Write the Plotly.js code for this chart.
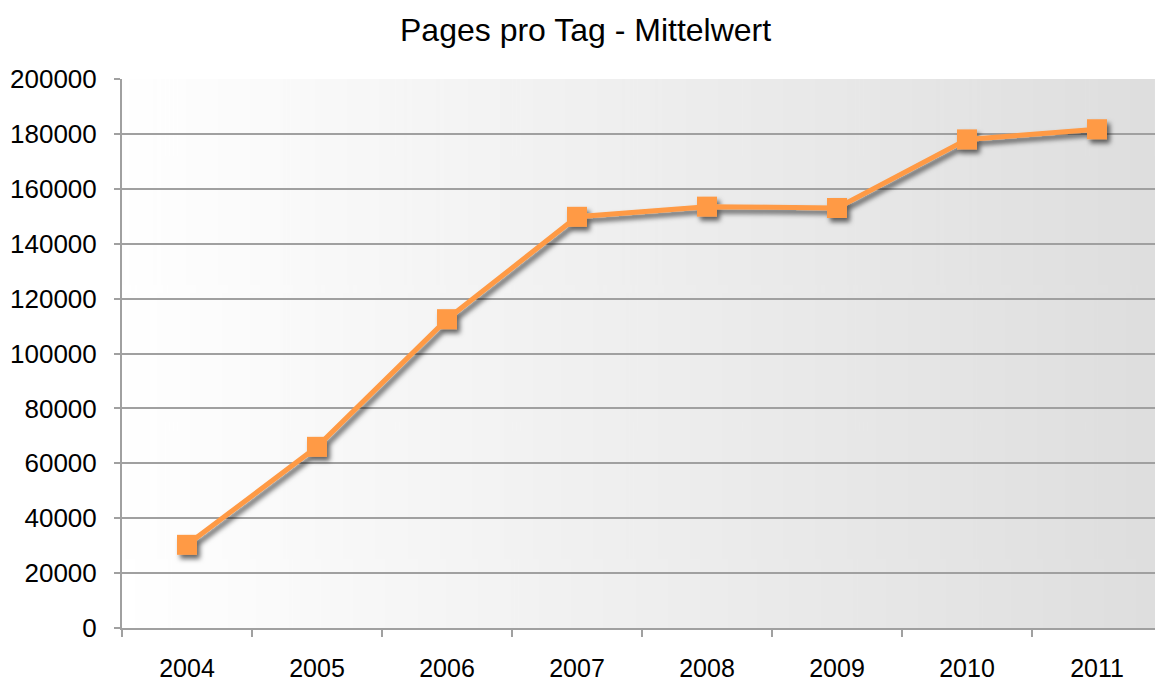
<!DOCTYPE html>
<html>
<head>
<meta charset="utf-8">
<script src="https://cdn.plot.ly/plotly-3.0.1.min.js"></script>
<style>
  body { margin: 0; background: #fff; }
  #chart { width: 1155px; height: 681px; }
</style>
</head>
<body>
<div id="chart"></div>
<script>
let years = ['2004', '2005', '2006', '2007', '2008', '2009', '2010', '2011']
let pagesPerDay = [30300, 66000, 112500, 149800, 153500, 153000, 178000, 181700]
let yTicks = [0, 20000, 40000, 60000, 80000, 100000, 120000, 140000, 160000, 180000, 200000]

// white to grey gradient for the plot background
function gradientImage() {
  let c = document.createElement('canvas')
  c.width = 512
  c.height = 4
  let ctx = c.getContext('2d')
  let g = ctx.createLinearGradient(0, 0, 512, 0)
  g.addColorStop(0, '#ffffff')
  g.addColorStop(1, '#dedede')
  ctx.fillStyle = g
  ctx.fillRect(0, 0, 512, 4)
  return c.toDataURL()
}

let trace = {
  x: years,
  y: pagesPerDay,
  type: 'scatter',
  mode: 'lines+markers',
  line: { color: '#ff9a45', width: 5 },
  marker: { symbol: 'square', size: 20, color: '#ff9a45' },
  cliponaxis: false
}

let layout = {
  width: 1155,
  height: 681,
  margin: { l: 122, r: 0, t: 79, b: 53 },
  paper_bgcolor: '#ffffff',
  plot_bgcolor: 'rgba(0,0,0,0)',
  font: { family: 'Liberation Sans, Arial, sans-serif', size: 26, color: '#000' },
  showlegend: false,
  title: {
    text: 'Pages pro Tag - Mittelwert',
    font: { size: 32, color: '#000' },
    xref: 'container', x: 0.507, xanchor: 'center',
    yref: 'container', y: 0.956, yanchor: 'middle'
  },
  images: [{
    source: gradientImage(),
    xref: 'paper', yref: 'paper',
    x: 0, y: 1, sizex: 1, sizey: 1,
    xanchor: 'left', yanchor: 'top',
    sizing: 'stretch', layer: 'below'
  }],
  xaxis: {
    type: 'category',
    range: [-0.5, 7.446],
    tickson: 'boundaries',
    ticks: 'outside',
    ticklen: 7,
    tickwidth: 2,
    tickcolor: '#a0a0a0',
    showline: true,
    linecolor: '#a0a0a0',
    linewidth: 2,
    showgrid: false,
    zeroline: false,
    tickfont: { size: 25 },
    ticklabelstandoff: 17,
    fixedrange: true
  },
  yaxis: {
    range: [0, 200000],
    tickvals: yTicks,
    ticktext: yTicks.map(String),
    ticks: 'outside',
    ticklen: 6,
    tickwidth: 2,
    tickcolor: '#a0a0a0',
    showline: true,
    linecolor: '#a0a0a0',
    linewidth: 2,
    showgrid: true,
    gridcolor: '#a0a0a0',
    gridwidth: 2,
    zeroline: false,
    ticklabelstandoff: 12,
    fixedrange: true
  }
}

Plotly.newPlot('chart', [trace], layout, { staticPlot: true }).then(function (gd) {
  // drop shadow under the line, like the original
  let svg = gd.querySelector('svg.main-svg')
  let ns = 'http://www.w3.org/2000/svg'
  let defs = svg.querySelector('defs') || svg.insertBefore(document.createElementNS(ns, 'defs'), svg.firstChild)
  let filter = document.createElementNS(ns, 'filter')
  filter.setAttribute('id', 'lineShadow')
  filter.setAttribute('x', '-10%')
  filter.setAttribute('y', '-10%')
  filter.setAttribute('width', '120%')
  filter.setAttribute('height', '120%')
  let shadow = document.createElementNS(ns, 'feDropShadow')
  shadow.setAttribute('dx', '3')
  shadow.setAttribute('dy', '4')
  shadow.setAttribute('stdDeviation', '2.5')
  shadow.setAttribute('flood-color', '#000')
  shadow.setAttribute('flood-opacity', '0.6')
  filter.appendChild(shadow)
  defs.appendChild(filter)
  gd.querySelectorAll('.scatterlayer .trace').forEach(function (t) {
    t.setAttribute('filter', 'url(#lineShadow)')
  })
})
</script>
</body>
</html>
